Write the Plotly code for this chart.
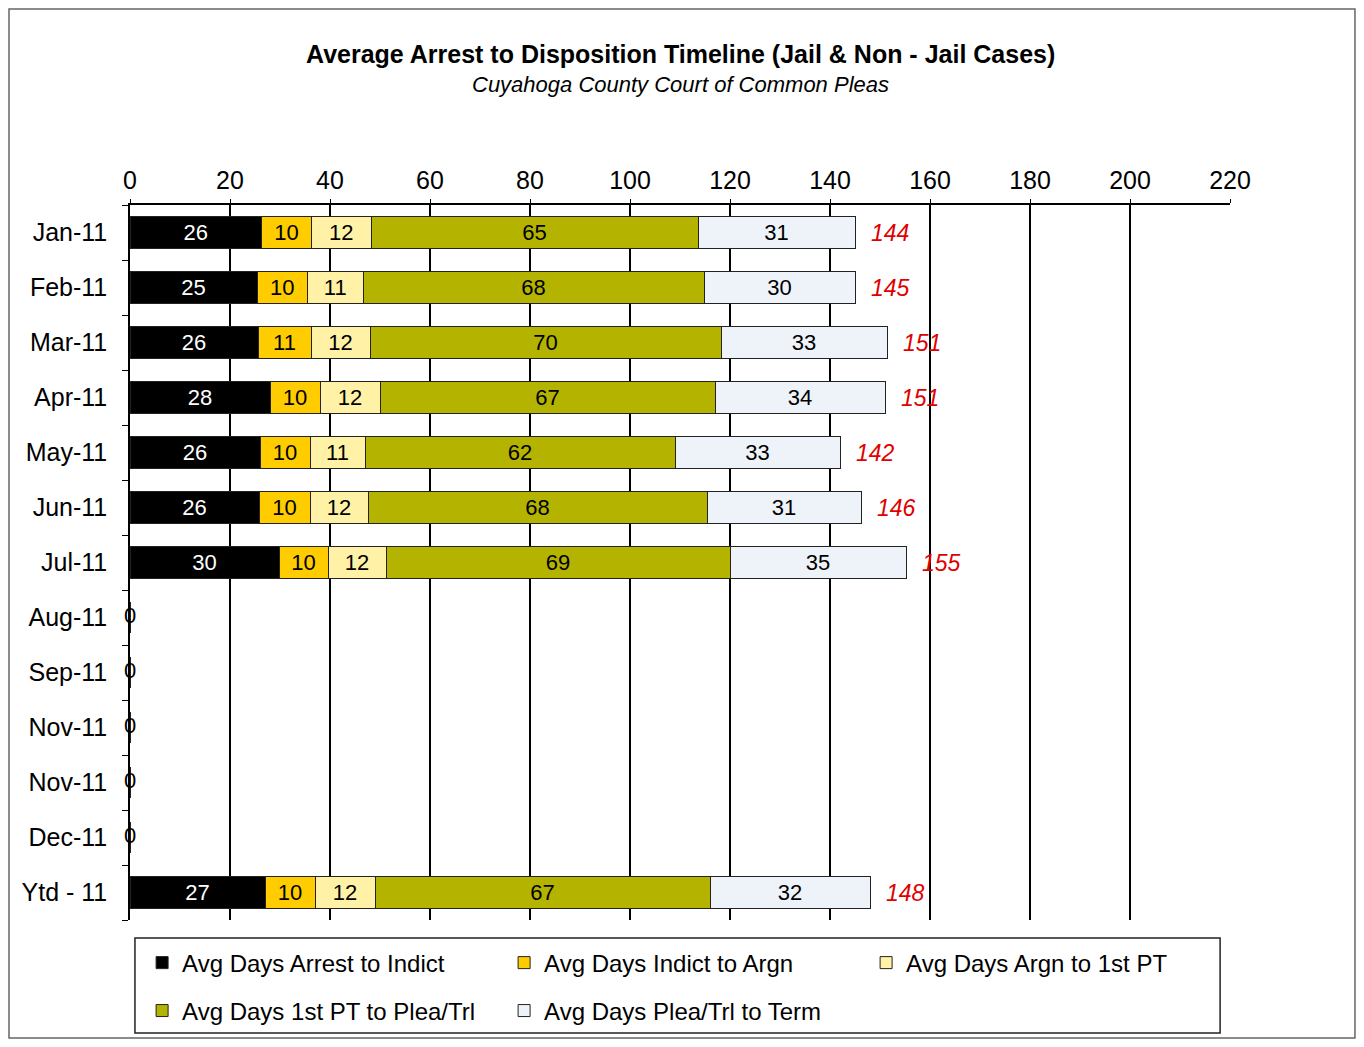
import plotly.graph_objects as go

# 数据
months = ["Jan-11", "Feb-11", "Mar-11", "Apr-11", "May-11", "Jun-11", "Jul-11",
          "Aug-11", "Sep-11", "Nov-11", "Nov-11", "Dec-11", "Ytd - 11"]
arrest_to_indict = [26.3, 25.4, 25.6, 28.0, 26.0, 25.8, 29.8, 0, 0, 0, 0, 0, 27.0]
indict_to_argn = [10.0, 10.1, 10.6, 10.0, 10.0, 10.2, 9.8, 0, 0, 0, 0, 0, 10.0]
argn_to_1st_pt = [11.9, 11.1, 11.8, 12.0, 11.0, 11.6, 11.6, 0, 0, 0, 0, 0, 12.0]
pt_to_plea = [65.4, 68.2, 70.2, 67.0, 62.0, 67.8, 68.8, 0, 0, 0, 0, 0, 67.0]
plea_to_term = [31.4, 30.2, 33.2, 34.0, 33.0, 30.8, 35.2, 0, 0, 0, 0, 0, 32.0]
totals = [144, 145, 151, 151, 142, 146, 155, None, None, None, None, None, 148]
x_ticks = list(range(0, 221, 20))

# (名称, 数值, 颜色, 文字颜色, 图例)
series = [
    ("Avg Days Arrest to Indict", arrest_to_indict, "#000000", "white", "legend"),
    ("Avg Days Indict to Argn", indict_to_argn, "#FFCC00", "black", "legend"),
    ("Avg Days Argn to 1st PT", argn_to_1st_pt, "#FFF2A6", "black", "legend"),
    ("Avg Days 1st PT to Plea/Trl", pt_to_plea, "#B3B300", "black", "legend2"),
    ("Avg Days Plea/Trl to Term", plea_to_term, "#EEF3FA", "black", "legend2"),
]

FONT = "Liberation Sans, Arial, sans-serif"
rows = list(range(len(months)))

fig = go.Figure()
for name, vals, color, tcolor, leg in series:
    fig.add_trace(go.Bar(
        name=name, y=rows, x=vals, orientation="h", legend=leg,
        marker=dict(color=color, line=dict(color="#222222", width=1)),
        text=[str(round(v)) if v else "" for v in vals],
        textposition="inside", insidetextanchor="middle",
        textfont=dict(color=tcolor, size=22, family=FONT),
        constraintext="none",
        hoverinfo="x+name",
    ))

# 空月份的 0 标签
zero_rows = [r for r in rows if totals[r] is None]
fig.add_trace(go.Scatter(
    x=[0] * len(zero_rows), y=zero_rows, mode="text",
    text=["0"] * len(zero_rows), textposition="middle center",
    textfont=dict(size=22, family=FONT, color="black"),
    cliponaxis=False, showlegend=False, hoverinfo="skip",
))

# 合计标签（红色斜体）
for r in rows:
    if totals[r] is not None:
        fig.add_annotation(
            x=sum(s[1][r] for s in series), y=r, text=f"<i>{totals[r]}</i>",
            xanchor="left", xshift=14, showarrow=False,
            font=dict(size=23, family=FONT, color="#E00000"),
        )

fig.add_annotation(
    x=0.5, y=1.211, xref="paper", yref="paper", showarrow=False, yanchor="middle",
    text="<b>Average Arrest to Disposition Timeline (Jail &amp; Non - Jail Cases)</b>",
    font=dict(size=25, family=FONT, color="black"),
)
fig.add_annotation(
    x=0.5, y=1.169, xref="paper", yref="paper", showarrow=False, yanchor="middle",
    text="<i>Cuyahoga County Court of Common Pleas</i>",
    font=dict(size=22, family=FONT, color="black"),
)

# 外框 和 图例框
fig.add_shape(type="rect", xref="paper", yref="paper",
              x0=-0.11, x1=1.1136, y0=-0.165, y1=1.274,
              line=dict(color="#666666", width=1.5))
fig.add_shape(type="rect", xref="paper", yref="paper",
              x0=0.0045, x1=0.991, y0=-0.158, y1=-0.0252,
              line=dict(color="#222222", width=1.5))

leg_common = dict(
    orientation="h", xanchor="left", yanchor="middle", yref="container",
    borderwidth=0, bgcolor="rgba(0,0,0,0)", entrywidth=317,
    itemwidth=30, font=dict(size=24, family=FONT), traceorder="normal",
)

fig.update_layout(
    barmode="stack", bargap=0.42,
    width=1348, height=1031,
    margin=dict(l=122, r=126, t=197, b=119, autoexpand=False),
    plot_bgcolor="white", paper_bgcolor="white",
    font=dict(family=FONT, color="black"),
    legend=dict(x=0.011, y=0.0737, **leg_common),
    legend2=dict(x=0.011, y=0.0272, **leg_common),
    showlegend=True,
)
fig.update_xaxes(
    side="top", range=[0, 220], tickvals=x_ticks,
    showgrid=True, gridcolor="black", gridwidth=1.5,
    showline=True, linecolor="black", linewidth=1.5,
    ticks="outside", ticklen=4, tickcolor="black",
    tickfont=dict(size=25, family=FONT), zeroline=False,
)
fig.update_yaxes(
    range=[12.5, -0.5], tickvals=rows, ticktext=months,
    showgrid=False, showline=True, linecolor="black", linewidth=1.5,
    ticks="", tickfont=dict(size=25, family=FONT), zeroline=False,
    ticklabelstandoff=16,
    minor=dict(tickvals=[r + 0.5 for r in range(-1, len(months))],
               ticks="outside", ticklen=6, tickcolor="black"),
)

fig.write_html("out.html")
